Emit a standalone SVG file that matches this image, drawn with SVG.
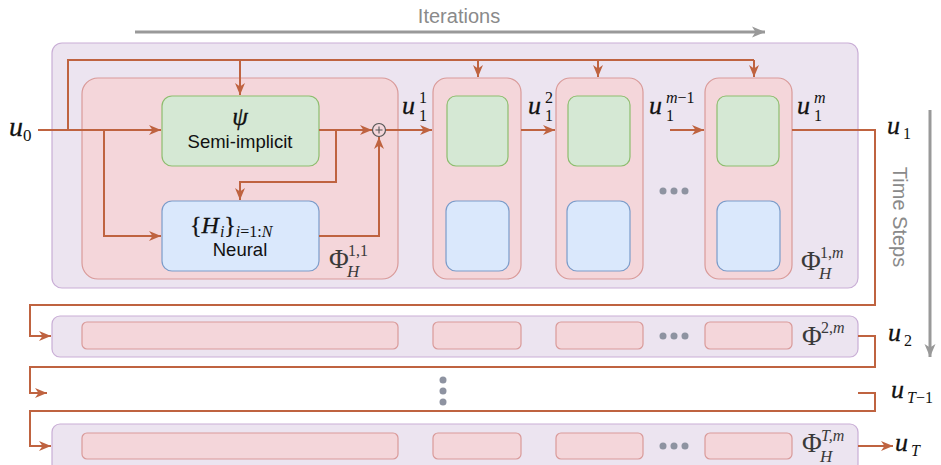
<svg xmlns="http://www.w3.org/2000/svg" width="941" height="465" viewBox="0 0 941 465">
<defs>
<marker id="ar" markerUnits="userSpaceOnUse" markerWidth="13" markerHeight="11" refX="12" refY="5.5" orient="auto">
<path d="M0,0.5 L12,5.5 L0,10.5 L3.5,5.5 Z" fill="#bf6340"/>
</marker>
<marker id="ga" markerUnits="userSpaceOnUse" markerWidth="14" markerHeight="12" refX="13" refY="6" orient="auto">
<path d="M0,0.5 L13,6 L0,11.5 L3.5,6 Z" fill="#999"/>
</marker>
</defs>
<style>
.outer{fill:#ece4f0;stroke:#c9aed6;stroke-width:1.2}
.pink{fill:#f4d6da;stroke:#d99a99;stroke-width:1.2}
.green{fill:#d5e8d4;stroke:#8dbd6e;stroke-width:1.2}
.blue{fill:#dae8fc;stroke:#7b9cca;stroke-width:1.2}
.c{fill:none;stroke:#bf6340;stroke-width:2}
.ca{fill:none;stroke:#bf6340;stroke-width:2;marker-end:url(#ar)}
.m{font-family:"Liberation Serif","DejaVu Serif",serif;fill:#111}
.b{stroke:#111;stroke-width:0.3}
.i{font-style:italic}
.sans{font-family:"Liberation Sans",Arial,sans-serif;fill:#111}
.dot{fill:#8e93a1}
.gray{font-family:"Liberation Sans",Arial,sans-serif;fill:#8a8a8a;font-size:20px}
.phi{font-family:"Liberation Serif","DejaVu Serif",serif;fill:#3a3a3a}
</style>

<g id="iterations-axis">
<line x1="135" y1="32" x2="765" y2="32" stroke="#999" stroke-width="3" marker-end="url(#ga)"/>
<text class="gray" x="459" y="23" text-anchor="middle">Iterations</text>
</g>
<g id="timesteps-axis">
<line x1="930" y1="110" x2="930" y2="357" stroke="#999" stroke-width="3" marker-end="url(#ga)"/>
<text class="gray" transform="translate(893,217) rotate(90)" text-anchor="middle">Time Steps</text>
</g>

<g id="step1">
<rect class="outer" x="52" y="43" width="806" height="245" rx="10"/>
<g id="phi11">
<rect class="pink" x="82" y="78" width="316" height="201" rx="16"/>
<text class="phi" x="329" y="268" font-size="27">Φ</text>
<text class="phi" x="348" y="256" font-size="16">1,1</text>
<text class="phi i" x="347" y="277" font-size="17">H</text>
</g>
<g id="semi-implicit">
<rect class="green" x="162" y="96" width="157" height="70" rx="10"/>
<text class="m i b" x="240" y="125" font-size="25" text-anchor="middle">ψ</text>
<text class="sans" x="240" y="148" font-size="18.5" text-anchor="middle">Semi-implicit</text>
</g>
<g id="neural">
<rect class="blue" x="162" y="201" width="157" height="70" rx="10"/>
<text class="m" x="190" y="233" font-size="24"><tspan class="b">{</tspan><tspan class="i b">H</tspan><tspan class="i" font-size="16" dy="4" dx="1">i</tspan><tspan class="b" dy="-4">}</tspan><tspan font-size="16" dy="4"><tspan class="i">i</tspan>=1:<tspan class="i">N</tspan></tspan></text>
<text class="sans" x="240" y="256" font-size="18.5" text-anchor="middle">Neural</text>
</g>
<g id="sum">
<circle cx="379" cy="130" r="6.5" fill="#f4d6da" stroke="#555" stroke-width="1.2"/>
<path d="M375.5,130 H382.5 M379,126.5 V133.5" stroke="#555" stroke-width="1.1"/>
</g>
<g id="phi12">
<rect class="pink" x="433" y="78" width="88" height="201" rx="14"/>
<rect class="green" x="447" y="96" width="61" height="70" rx="9"/>
<rect class="blue" x="446" y="201" width="63" height="70" rx="10"/>
</g>
<g id="phi13">
<rect class="pink" x="556" y="78" width="87" height="201" rx="14"/>
<rect class="green" x="568" y="96" width="62" height="70" rx="9"/>
<rect class="blue" x="567" y="201" width="63" height="70" rx="10"/>
</g>
<g id="dots1">
<circle class="dot" cx="663" cy="191" r="3.5"/><circle class="dot" cx="674" cy="191" r="3.5"/><circle class="dot" cx="685" cy="191" r="3.5"/>
</g>
<g id="phi1m">
<rect class="pink" x="705" y="78" width="87" height="201" rx="14"/>
<rect class="green" x="717" y="96" width="62" height="70" rx="9"/>
<rect class="blue" x="717" y="201" width="63" height="70" rx="10"/>
<text class="phi" x="801" y="270" font-size="27">Φ</text>
<text class="phi" x="820" y="258" font-size="16">1,<tspan class="i">m</tspan></text>
<text class="phi i" x="819" y="279" font-size="17">H</text>
</g>
</g>

<g id="step2">
<rect class="outer" x="52" y="316" width="806" height="41" rx="8"/>
<rect class="pink" x="82" y="322" width="316" height="27" rx="5"/>
<rect class="pink" x="433" y="322" width="88" height="27" rx="5"/>
<rect class="pink" x="556" y="322" width="87" height="27" rx="5"/>
<rect class="pink" x="705" y="322" width="87" height="27" rx="5"/>
<circle class="dot" cx="663" cy="336" r="3.5"/><circle class="dot" cx="674" cy="336" r="3.5"/><circle class="dot" cx="685" cy="336" r="3.5"/>
<text class="phi" x="802" y="345" font-size="27">Φ</text>
<text class="phi" x="821" y="333" font-size="16">2,<tspan class="i">m</tspan></text>
</g>

<g id="vdots">
<circle class="dot" cx="443" cy="380" r="3.5"/><circle class="dot" cx="443" cy="391" r="3.5"/><circle class="dot" cx="443" cy="402" r="3.5"/>
</g>

<g id="stepT">
<rect class="outer" x="52" y="424" width="806" height="48" rx="8"/>
<rect class="pink" x="82" y="433" width="316" height="26" rx="5"/>
<rect class="pink" x="433" y="433" width="88" height="26" rx="5"/>
<rect class="pink" x="556" y="433" width="87" height="26" rx="5"/>
<rect class="pink" x="705" y="433" width="87" height="26" rx="5"/>
<circle class="dot" cx="663" cy="446" r="3.5"/><circle class="dot" cx="674" cy="446" r="3.5"/><circle class="dot" cx="685" cy="446" r="3.5"/>
<text class="phi" x="802" y="452" font-size="27">Φ</text>
<text class="phi i" x="821" y="441" font-size="16">T,m</text>
<text class="phi i" x="820" y="462" font-size="17">H</text>
</g>

<g id="connectors">
<path class="c" d="M38,130 H68 V60 H754" stroke-width="2.5"/>
<path class="ca" d="M68,130 H161"/>
<path class="ca" d="M240,60 V95"/>
<path class="ca" d="M478,60 V77"/>
<path class="ca" d="M598,60 V77"/>
<path class="ca" d="M754,60 V77"/>
<path class="ca" d="M104,130 V236 H161"/>
<path class="ca" d="M319,130 H372"/>
<path class="ca" d="M336,130 V182 H240 V200"/>
<path class="ca" d="M319,236 H379 V137"/>
<path class="ca" d="M386,130 H432"/>
<path class="ca" d="M521,130 H555"/>
<path class="ca" d="M670,130 H704"/>
<path class="ca" d="M792,130 H875 V305 H30 V336 H51"/>
<path class="ca" d="M858,336 H875 V367 H30 V393 H47"/>
<path class="ca" d="M858,393 H875 V411 H30 V446 H51"/>
<path class="ca" d="M858,446 H893"/>
</g>

<g id="labels">
<text class="m i b" x="9" y="136" font-size="28">u</text>
<text class="m" x="23" y="141" font-size="17">0</text>

<text class="m i b" x="402" y="114" font-size="26">u</text>
<text class="m" x="419" y="103" font-size="16">1</text>
<text class="m" x="419" y="121" font-size="16">1</text>

<text class="m i b" x="528" y="114" font-size="26">u</text>
<text class="m" x="545" y="103" font-size="16">2</text>
<text class="m" x="545" y="121" font-size="16">1</text>

<text class="m i b" x="649" y="114" font-size="26">u</text>
<text class="m" x="666" y="103" font-size="16"><tspan class="i">m</tspan>−1</text>
<text class="m" x="666" y="121" font-size="16">1</text>

<text class="m i b" x="797" y="114" font-size="26">u</text>
<text class="m i" x="814" y="103" font-size="16">m</text>
<text class="m" x="814" y="121" font-size="16">1</text>

<text class="m i b" x="887" y="134" font-size="26">u</text>
<text class="m" x="903" y="139" font-size="16">1</text>

<text class="m i b" x="888" y="341" font-size="26">u</text>
<text class="m" x="904" y="346" font-size="16">2</text>

<text class="m i b" x="891" y="398" font-size="26">u</text>
<text class="m" x="907" y="403" font-size="16"><tspan class="i">T</tspan>−1</text>

<text class="m i b" x="895" y="451" font-size="26">u</text>
<text class="m i" x="911" y="456" font-size="16">T</text>
</g>
</svg>
